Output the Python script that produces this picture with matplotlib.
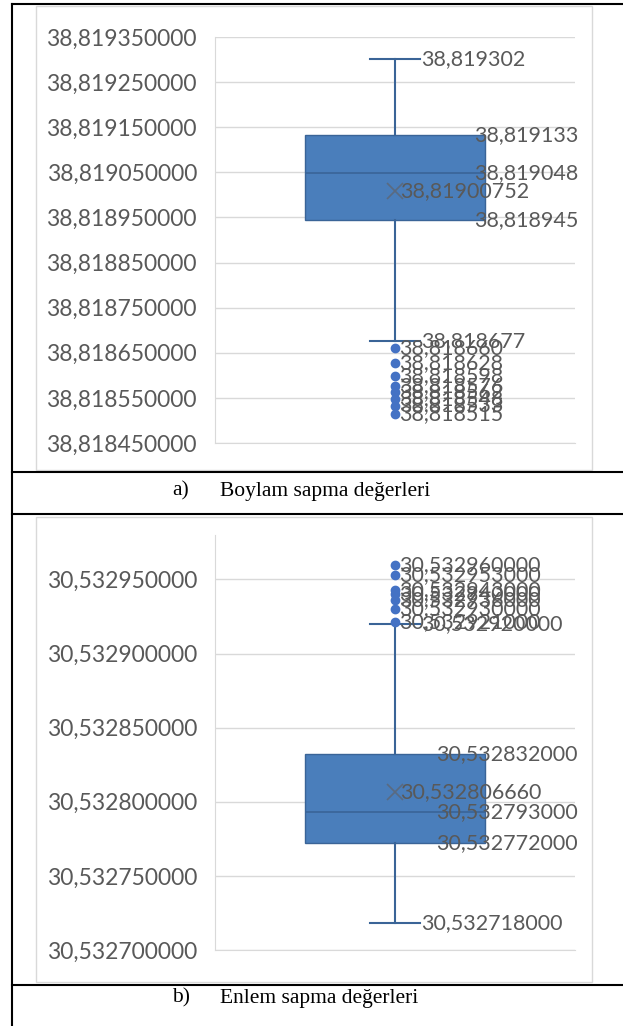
import matplotlib
matplotlib.use("Agg")
import matplotlib.pyplot as plt
from matplotlib.patches import Rectangle
from matplotlib.lines import Line2D
from matplotlib.ticker import FixedLocator, FuncFormatter

# a) Boylam sapma degerleri
lon_whislo = 38.818677
lon_q1 = 38.818945
lon_med = 38.819048
lon_mean = 38.81900752
lon_q3 = 38.819133
lon_whishi = 38.819302
lon_fliers = [38.818660, 38.818628, 38.818598, 38.818576, 38.818562,
              38.818548, 38.818533, 38.818515]
lon_ticks = [38.81845, 38.81855, 38.81865, 38.81875, 38.81885,
             38.81895, 38.81905, 38.81915, 38.81925, 38.81935]
lon_ylim = (38.81845, 38.81935)

# b) Enlem sapma degerleri
lat_whislo = 30.532718
lat_q1 = 30.532772
lat_med = 30.532793
lat_mean = 30.53280666
lat_q3 = 30.532832
lat_whishi = 30.532920
lat_fliers = [30.532960, 30.532953, 30.532943, 30.532940, 30.532936,
              30.532930, 30.532921]
lat_ticks = [30.5327, 30.53275, 30.5328, 30.53285, 30.5329, 30.53295]
lat_ylim = (30.5327, 30.53298)

captions = [("a)", "Boylam sapma değerleri"), ("b)", "Enlem sapma değerleri")]

W, H = 623, 1026
BLUE = "#4A7EBB"
EDGE = "#3A6497"
TXT = "#595959"
GRID = "#D9D9D9"
FS = 15.5
TICK_FS = 16.5

plt.rcParams["font.family"] = ["Lato", "DejaVu Sans"]


def fmt(v, nd):
    return f"{v:.{nd}f}".replace(".", ",")


def fig_rect(px_left, px_top, px_w, px_h):
    return [px_left / W, 1 - (px_top + px_h) / H, px_w / W, px_h / H]


def draw_chart(ax, whislo, q1, med, mean, q3, whishi, fliers, ticks, ylim, nd, nd_mean):
    stats = [dict(whislo=whislo, q1=q1, med=med, mean=mean, q3=q3,
                  whishi=whishi, fliers=fliers)]
    ax.bxp(stats, positions=[1], widths=0.5, capwidths=0.14,
           showmeans=True, patch_artist=True,
           boxprops=dict(facecolor=BLUE, edgecolor=EDGE, linewidth=1),
           medianprops=dict(color=EDGE, linewidth=1.2),
           whiskerprops=dict(color=EDGE, linewidth=1.5),
           capprops=dict(color=EDGE, linewidth=1.5),
           meanprops=dict(marker="x", markeredgecolor="#5a6a80",
                          markersize=12, markeredgewidth=1.2),
           flierprops=dict(marker="o", markerfacecolor="#4472C4",
                           markeredgecolor="#4472C4", markersize=6))
    ax.set_xlim(0.5, 1.5)
    ax.set_ylim(*ylim)
    ax.yaxis.set_major_locator(FixedLocator(ticks))
    ax.yaxis.set_major_formatter(FuncFormatter(lambda v, p: fmt(v, 9)))
    ax.set_xticks([])
    ax.tick_params(axis="y", length=0, pad=13, labelsize=TICK_FS, labelcolor=TXT)
    ax.grid(axis="y", color=GRID, linewidth=1)
    ax.set_axisbelow(True)
    for s in ["top", "right"]:
        ax.spines[s].set_visible(False)
    for s in ["left", "bottom"]:
        ax.spines[s].set_color(GRID)

    kw = dict(fontsize=FS, color=TXT, va="center", textcoords="offset points",
              annotation_clip=False)
    # whisker ends
    for v in [whishi, whislo]:
        ax.annotate(fmt(v, nd), xy=(1.07, v), xytext=(1, 0), ha="left", **kw)
    # quartiles and median
    for v in [q3, med, q1]:
        ax.annotate(fmt(v, nd), xy=(1.25, v), xytext=(67, 0), ha="right", **kw)
    # mean
    ax.annotate(fmt(mean, nd_mean), xy=(1.0, mean), xytext=(4, 0), ha="left", **kw)
    # outliers
    for v in fliers:
        ax.annotate(fmt(v, nd), xy=(1.0, v), xytext=(3, 0), ha="left", **kw)


fig = plt.figure(figsize=(W / 100, H / 100), dpi=100)

# chart frames
for top, bot in [(6, 470), (517, 982)]:
    fig.add_artist(Rectangle((36 / W, 1 - bot / H), (592 - 36) / W, (bot - top) / H,
                             transform=fig.transFigure, fill=False,
                             edgecolor=GRID, linewidth=1, zorder=-1))

ax1 = fig.add_axes(fig_rect(215, 37, 360, 406))
draw_chart(ax1, lon_whislo, lon_q1, lon_med, lon_mean, lon_q3, lon_whishi,
           lon_fliers, lon_ticks, lon_ylim, 6, 8)

ax2 = fig.add_axes(fig_rect(215, 535, 360, 415))
draw_chart(ax2, lat_whislo, lat_q1, lat_med, lat_mean, lat_q3, lat_whishi,
           lat_fliers, lat_ticks, lat_ylim, 9, 9)

# table borders
def hline(py, x0=12, x1=623):
    fig.add_artist(Line2D([x0 / W, x1 / W], [1 - py / H, 1 - py / H],
                          transform=fig.transFigure, color="black", linewidth=1.5))

fig.add_artist(Line2D([12 / W, 12 / W], [1 - 4 / H, 0], transform=fig.transFigure,
                      color="black", linewidth=1.5))
for py in [4, 472, 514, 985]:
    hline(py)

# captions
for (lab, txt), py in zip(captions, [491, 998]):
    fig.text(172 / W, 1 - py / H, lab, family="Liberation Serif", fontsize=15.5,
             va="center", ha="left")
    fig.text(220 / W, 1 - py / H, txt, family="Liberation Serif", fontsize=15.5,
             va="center", ha="left")

fig.savefig("out.png", dpi=100)
